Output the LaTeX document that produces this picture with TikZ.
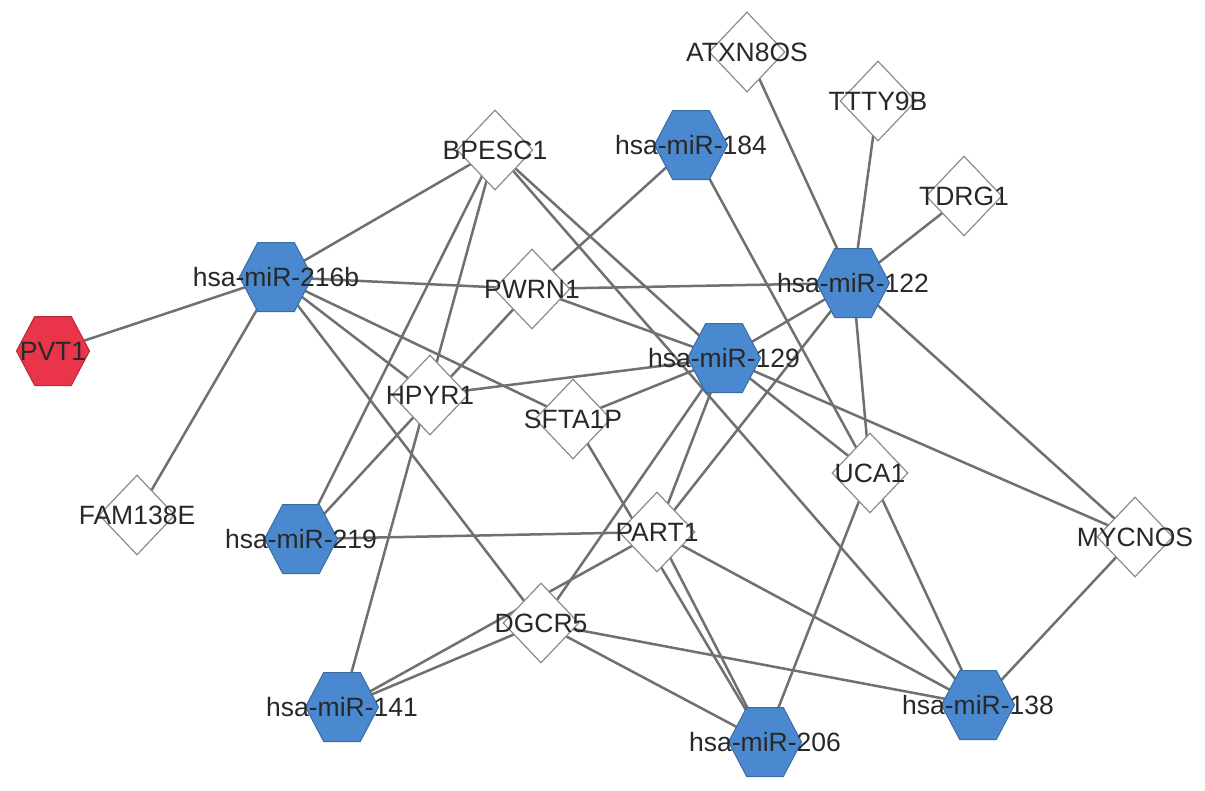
\documentclass[tikz,border=0pt]{standalone}
\usepackage{fontspec}
\setmainfont{Liberation Sans}
\usetikzlibrary{shapes.geometric}
\pgfdeclarelayer{bg}
\pgfsetlayers{bg,main}
\definecolor{mirfill}{RGB}{74,137,207}
\definecolor{lncred}{RGB}{233,52,74}
\definecolor{edgecol}{RGB}{112,112,112}
\definecolor{dmdraw}{RGB}{140,140,140}
\definecolor{txtcol}{RGB}{40,40,40}
\tikzset{
  hexa/.style={rectangle, inner sep=0pt, minimum width=74pt, minimum height=70pt,
    path picture={\filldraw[fill=#1, draw=#1!78!black, line width=1pt,
      shift={(path picture bounding box.center)}]
      (-36.5pt,0pt) -- (-18.3pt,34.5pt) -- (18.3pt,34.5pt) -- (36.5pt,0pt)
      -- (18.3pt,-34.5pt) -- (-18.3pt,-34.5pt) -- cycle;}},
  mir/.style={hexa=mirfill},
  hub/.style={hexa=lncred},
  lnc/.style={diamond, draw=dmdraw, fill=white, line width=1.2pt,
    minimum width=76pt, minimum height=80pt, inner sep=0pt},
  lbl/.style={font=\fontsize{26.5}{30}\selectfont, text=txtcol, inner sep=0pt},
  edge/.style={draw=edgecol, line width=2.5pt}
}
\begin{document}
\begin{tikzpicture}[x=1pt,y=-1pt]
\useasboundingbox (0,0) rectangle (1205,790);
% miRNA hexagons
\node[hub] (PVT1) at (53,351) {};
\node[mir] (m216b) at (276,277) {};
\node[mir] (m184) at (691,145) {};
\node[mir] (m122) at (853,283) {};
\node[mir] (m129) at (724,358) {};
\node[mir] (m219) at (301,539) {};
\node[mir] (m141) at (342,707) {};
\node[mir] (m206) at (765,742) {};
\node[mir] (m138) at (978,705) {};
% lncRNA diamonds
\node[lnc] (ATXN8OS) at (747,52) {};
\node[lnc] (TTTY9B) at (878,101) {};
\node[lnc] (TDRG1) at (964,196) {};
\node[lnc] (BPESC1) at (495,150) {};
\node[lnc] (PWRN1) at (532,289) {};
\node[lnc] (HPYR1) at (430,395) {};
\node[lnc] (SFTA1P) at (573,419) {};
\node[lnc] (PART1) at (657,532) {};
\node[lnc] (DGCR5) at (541,623) {};
\node[lnc] (UCA1) at (870,473) {};
\node[lnc] (MYCNOS) at (1135,537) {};
\node[lnc] (FAM138E) at (137,515) {};
% edges
\begin{pgfonlayer}{bg}
\fill[white] (0,0) rectangle (1205,790);
\draw[edge] (PVT1.center) -- (m216b.center);
\draw[edge] (m216b.center) -- (BPESC1.center);
\draw[edge] (m216b.center) -- (PWRN1.center);
\draw[edge] (PWRN1.center) -- (m122.center);
\draw[edge] (m216b.center) -- (FAM138E.center);
\draw[edge] (m216b.center) -- (SFTA1P.center);
\draw[edge] (m216b.center) -- (HPYR1.center);
\draw[edge] (m216b.center) -- (DGCR5.center);
\draw[edge] (BPESC1.center) -- (m219.center);
\draw[edge] (BPESC1.center) -- (m141.center);
\draw[edge] (BPESC1.center) -- (m129.center);
\draw[edge] (BPESC1.center) -- (m138.center);
\draw[edge] (m184.center) -- (PWRN1.center);
\draw[edge] (m184.center) -- (UCA1.center);
\draw[edge] (m122.center) -- (ATXN8OS.center);
\draw[edge] (m122.center) -- (TTTY9B.center);
\draw[edge] (m122.center) -- (TDRG1.center);
\draw[edge] (m122.center) -- (m129.center);
\draw[edge] (m122.center) -- (PART1.center);
\draw[edge] (m122.center) -- (UCA1.center);
\draw[edge] (m122.center) -- (MYCNOS.center);
\draw[edge] (m129.center) -- (PWRN1.center);
\draw[edge] (m129.center) -- (HPYR1.center);
\draw[edge] (m129.center) -- (SFTA1P.center);
\draw[edge] (m129.center) -- (DGCR5.center);
\draw[edge] (m129.center) -- (PART1.center);
\draw[edge] (m129.center) -- (UCA1.center);
\draw[edge] (m129.center) -- (MYCNOS.center);
\draw[edge] (m219.center) -- (PWRN1.center);
\draw[edge] (m219.center) -- (PART1.center);
\draw[edge] (m141.center) -- (DGCR5.center);
\draw[edge] (m141.center) -- (PART1.center);
\draw[edge] (m206.center) -- (PART1.center);
\draw[edge] (m206.center) -- (SFTA1P.center);
\draw[edge] (m206.center) -- (DGCR5.center);
\draw[edge] (m206.center) -- (UCA1.center);
\draw[edge] (m138.center) -- (PART1.center);
\draw[edge] (m138.center) -- (DGCR5.center);
\draw[edge] (m138.center) -- (UCA1.center);
\draw[edge] (m138.center) -- (MYCNOS.center);
\end{pgfonlayer}
% labels
\node[lbl] (lPVT1) at (PVT1.center) {PVT1};
\node[lbl] (l216b) at (m216b.center) {hsa-miR-216b};
\node[lbl] (l184) at (m184.center) {hsa-miR-184};
\node[lbl] (l122) at (m122.center) {hsa-miR-122};
\node[lbl] (l129) at (m129.center) {hsa-miR-129};
\node[lbl] (l219) at (m219.center) {hsa-miR-219};
\node[lbl] (l141) at (m141.center) {hsa-miR-141};
\node[lbl] (l206) at (m206.center) {hsa-miR-206};
\node[lbl] (l138) at (m138.center) {hsa-miR-138};
\node[lbl] (lATXN8OS) at (ATXN8OS.center) {ATXN8OS};
\node[lbl] (lTTTY9B) at (TTTY9B.center) {TTTY9B};
\node[lbl] (lTDRG1) at (TDRG1.center) {TDRG1};
\node[lbl] (lBPESC1) at (BPESC1.center) {BPESC1};
\node[lbl] (lPWRN1) at (PWRN1.center) {PWRN1};
\node[lbl] (lHPYR1) at (HPYR1.center) {HPYR1};
\node[lbl] (lSFTA1P) at (SFTA1P.center) {SFTA1P};
\node[lbl] (lPART1) at (PART1.center) {PART1};
\node[lbl] (lDGCR5) at (DGCR5.center) {DGCR5};
\node[lbl] (lUCA1) at (UCA1.center) {UCA1};
\node[lbl] (lMYCNOS) at (MYCNOS.center) {MYCNOS};
\node[lbl] (lFAM138E) at (FAM138E.center) {FAM138E};
\end{tikzpicture}
\end{document}
